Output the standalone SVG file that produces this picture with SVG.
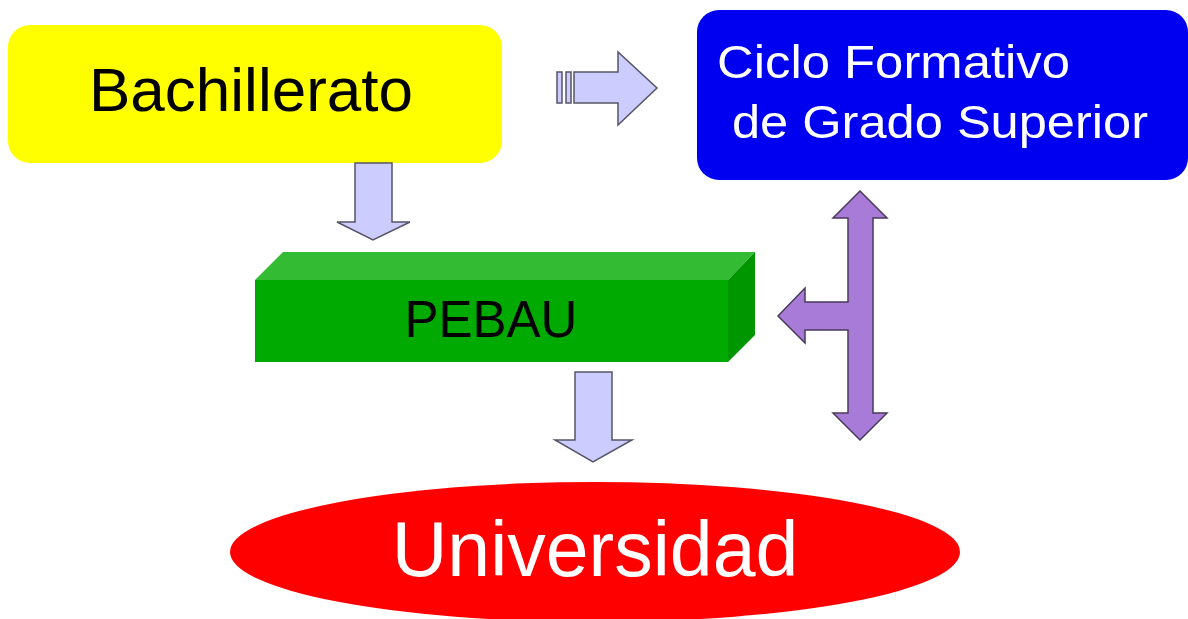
<svg xmlns="http://www.w3.org/2000/svg" width="1188" height="619" viewBox="0 0 1188 619">
<style>
.lbl{font-family:"Liberation Sans",Arial,sans-serif}
.lav{fill:#CCCCFF;stroke:#555566;stroke-width:1.5;stroke-linejoin:miter}
.pur{fill:#A97BD8;stroke:#4A3A5A;stroke-width:1.5;stroke-linejoin:miter}
</style>
<rect width="1188" height="619" fill="#FFFFFF"/>
<g id="bachillerato">
<rect x="8" y="25" width="494" height="138" rx="22" fill="#FFFF00"/>
<text class="lbl" x="251" y="111" font-size="62" text-anchor="middle" fill="#000">Bachillerato</text>
</g>
<g id="ciclo">
<rect x="697" y="10" width="491" height="170" rx="22" fill="#0000F0"/>
<text class="lbl" x="717" y="78" font-size="47" fill="#FFF" textLength="353" lengthAdjust="spacingAndGlyphs">Ciclo Formativo</text>
<text class="lbl" x="732" y="138" font-size="47" fill="#FFF" textLength="416" lengthAdjust="spacingAndGlyphs">de Grado Superior</text>
</g>
<g id="pebau">
<polygon points="255,280 283,252 755,252 728,280" fill="#33BB33"/>
<polygon points="728,280 755,252 755,335 728,362" fill="#009600"/>
<rect x="255" y="280" width="473" height="82" fill="#00AA00"/>
<text class="lbl" x="491" y="337" font-size="51" text-anchor="middle" fill="#000">PEBAU</text>
</g>
<g id="universidad">
<ellipse cx="595" cy="552" rx="365" ry="70" fill="#FF0000"/>
<text class="lbl" x="595" y="576" font-size="77" text-anchor="middle" fill="#FFF">Universidad</text>
</g>
<g id="connectors">
<rect class="lav" x="557" y="72" width="5" height="31"/>
<rect class="lav" x="566" y="72" width="5" height="31"/>
<polygon class="lav" points="574,72 618,72 618,52 657,88 618,125 618,103 574,103"/>
<polygon class="lav" points="355,163 392,163 392,222 410,222 373,240 337,222 355,222"/>
<polygon class="lav" points="575,372 612,372 612,440 632,440 593,462 555,440 575,440"/>
<polygon class="pur" points="860,191 887,218 873,218 873,413 887,413 860,440 833,413 848,413 848,330 805,330 805,343 778,316 805,288 805,302 848,302 848,218 833,218"/>
</g>
</svg>
